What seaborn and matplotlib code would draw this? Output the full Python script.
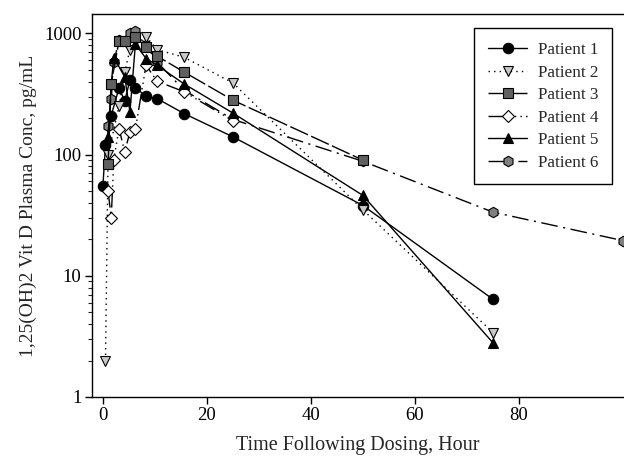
import numpy as np
import pandas as pd
import seaborn as sns
import matplotlib
matplotlib.use("Agg")
from matplotlib import pyplot as plt

# time (hour) and 1,25(OH)2 vit D concentration (pg/mL)
p1_t = [0, 0.5, 1.6, 3.1, 4.2, 5.2, 6.25, 8.3, 10.4, 15.6, 25, 50, 75]
p1_c = [55, 120, 210, 355, 277, 411, 357, 302, 290, 218, 140, 38, 6.4]

p2_t = [0.5, 1, 3.1, 4.2, 5.2, 8.3, 10.4, 15.6, 25, 50, 75]
p2_c = [2, 100, 250, 481, 735, 940, 735, 635, 390, 35, 3.4]

p3_t = [1, 1.6, 3.1, 4.2, 6.25, 8.3, 10.4, 15.6, 25, 50]
p3_c = [84, 385, 866, 870, 940, 770, 650, 480, 281, 90]

p4_t = [1, 1.6, 2.1, 3.1, 4.2, 5.2, 6.25, 8.3, 10.4, 15.6, 25]
p4_c = [50, 30, 91, 164, 105, 154, 162, 546, 403, 330, 190]

p5_t = [1, 1.6, 2.1, 4.2, 5.2, 6.25, 8.3, 10.4, 15.6, 25, 50, 75]
p5_c = [140, 385, 630, 437, 225, 815, 620, 546, 383, 220, 46, 2.8]

p6_t = [1, 1.6, 2.1, 3.1, 4.2, 5.2, 6.25, 8.3, 10.4, 15.6, 25, 50, 75, 100]
p6_c = [172, 285, 581, 877, 866, 1000, 1050, 798, 581, 340, 195, 88, 33.5, 19.5]

patients = ['Patient 1', 'Patient 2', 'Patient 3', 'Patient 4', 'Patient 5', 'Patient 6']
times = [p1_t, p2_t, p3_t, p4_t, p5_t, p6_t]
concs = [p1_c, p2_c, p3_c, p4_c, p5_c, p6_c]

# marker, face colour, line style
styles = [
    ('o', 'black', '-'),
    ('v', '#c8c8c8', (0, (1, 3))),
    ('s', '#606060', (0, (14, 2.5))),
    ('D', 'white', (0, (12, 3, 1, 3, 1, 3, 1, 3))),
    ('^', 'black', '-'),
    ('h', '#808080', (0, (12, 4, 1.5, 4))),
]
sizes = [7.5, 7.5, 7, 6, 7.5, 7.5]
zorders = [3, 3, 4, 3, 3, 2.5]

sns.set_style('ticks')
plt.rcParams['font.family'] = ['Liberation Serif', 'DejaVu Serif']

fig = plt.figure(figsize=(6.24, 4.57), dpi=100)
ax = fig.add_axes([0.1474, 0.1313, 0.8526, 0.8374])

for name, t, c, (mk, fc, ls), ms, z in zip(patients, times, concs, styles, sizes, zorders):
    df = pd.DataFrame({'t': t, 'c': c})
    sns.lineplot(data=df, x='t', y='c', ax=ax, estimator=None, sort=False,
                 color='black', linewidth=1.0, linestyle=ls,
                 marker=mk, markersize=ms, markerfacecolor=fc,
                 markeredgecolor='black', markeredgewidth=0.8,
                 label=name, zorder=z)

ax.set_yscale('log')
ax.set_xlim(-2.1, 100.2)
ax.set_ylim(1, 1436)
ax.set_xticks([0, 20, 40, 60, 80])
ax.set_yticks([1, 10, 100, 1000])
ax.set_yticklabels(['1', '10', '100', '1000'])

ax.tick_params(axis='both', which='major', direction='out', length=5, width=1,
               labelsize=13.5, colors='black', left=True, bottom=True, pad=2.5)
ax.tick_params(axis='y', which='minor', direction='out', length=3, width=0.8, left=True)
for s in ax.spines.values():
    s.set_linewidth(1.0)
    s.set_color('black')
ax.spines['right'].set_visible(False)  # figure is cropped on the right

ax.set_xlabel('Time Following Dosing, Hour', fontsize=14.5, labelpad=8)
ax.set_ylabel('1,25(OH)2 Vit D Plasma Conc, pg/mL', fontsize=14, labelpad=5)

leg = ax.legend(loc='upper right', bbox_to_anchor=(0.977, 0.963), borderaxespad=0,
                fontsize=12.3, frameon=True, fancybox=False, edgecolor='black',
                framealpha=1, handlelength=2.3, labelspacing=0.38, borderpad=0.8,
                handletextpad=0.6)
leg.get_frame().set_linewidth(1.0)

fig.savefig('out.png', dpi=100)
